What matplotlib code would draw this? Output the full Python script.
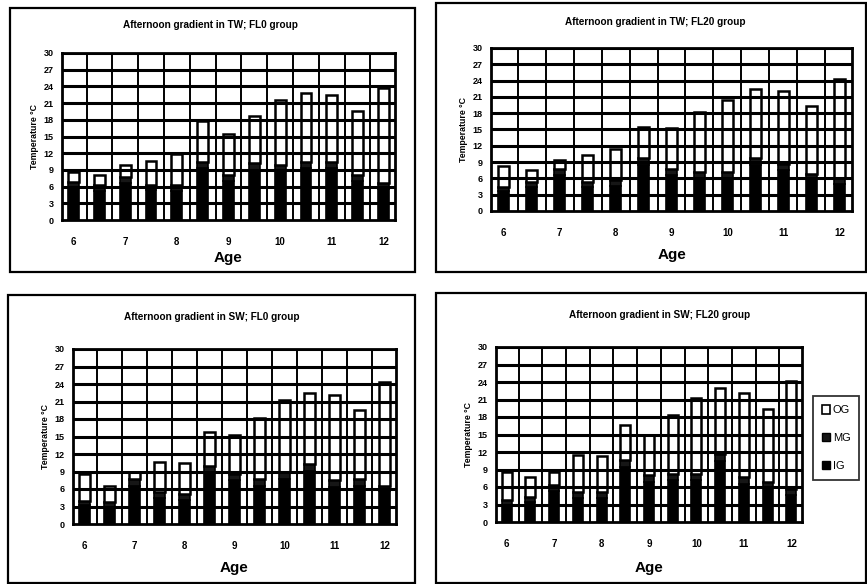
import matplotlib
matplotlib.use("Agg")
import matplotlib.pyplot as plt
from matplotlib.patches import Rectangle, Patch

plt.rcParams['font.family'] = ['Liberation Sans', 'DejaVu Sans']
plt.rcParams['font.weight'] = 'bold'

W, H = 867, 584

age_ticks = ['6', '7', '8', '9', '10', '11', '12']
yticks = [0, 3, 6, 9, 12, 15, 18, 21, 24, 27, 30]

titles = ["Afternoon gradient in TW; FL0 group",
          "Afternoon gradient in TW; FL20 group",
          "Afternoon gradient in SW; FL0 group",
          "Afternoon gradient in SW; FL20 group"]

# Panel 1: TW, FL0
ig_1 = [5.9, 5.2, 6.6, 5.3, 5.2, 9.3, 7.0, 9.0, 8.8, 9.3, 9.4, 7.0, 5.6]
mg_1 = [1.0, 1.1, 1.2, 1.0, 1.1, 1.2, 1.1, 1.2, 1.1, 1.2, 1.1, 1.1, 1.0]
og_1 = [1.8, 1.8, 2.1, 4.3, 5.5, 7.2, 7.3, 8.4, 11.7, 12.3, 11.9, 11.5, 17.1]
# Panel 2: TW, FL20
ig_2 = [3.6, 4.5, 6.7, 4.4, 4.6, 8.5, 6.7, 6.1, 6.1, 8.5, 7.6, 5.9, 5.0]
mg_2 = [0.8, 0.9, 1.1, 1.0, 1.1, 1.2, 1.1, 1.1, 1.1, 1.2, 1.1, 1.0, 1.0]
og_2 = [3.9, 2.1, 1.6, 4.9, 5.7, 5.7, 7.5, 11.1, 13.3, 12.7, 13.4, 12.4, 18.3]
# Panel 3: SW, FL0
ig_3 = [3.2, 3.0, 6.6, 4.5, 4.2, 8.8, 7.5, 6.6, 7.8, 9.1, 6.4, 6.6, 5.6]
mg_3 = [0.8, 0.8, 1.1, 1.0, 1.0, 1.2, 1.1, 1.1, 1.1, 1.2, 1.1, 1.1, 1.0]
og_3 = [4.6, 2.8, 1.2, 5.1, 5.3, 5.8, 6.6, 10.4, 12.4, 12.2, 14.7, 11.8, 17.8]
# Panel 4: SW, FL20
ig_4 = [2.9, 3.4, 5.4, 4.1, 4.1, 9.4, 6.9, 7.2, 7.2, 10.5, 6.6, 5.9, 4.7]
mg_4 = [0.8, 0.9, 1.0, 1.0, 1.0, 1.2, 1.1, 1.1, 1.1, 1.2, 1.1, 1.0, 1.0]
og_4 = [4.9, 3.4, 2.2, 6.4, 6.3, 6.0, 6.9, 10.1, 13.0, 11.2, 14.4, 12.5, 18.4]

panels = [(ig_1, mg_1, og_1), (ig_2, mg_2, og_2), (ig_3, mg_3, og_3), (ig_4, mg_4, og_4)]

# layout in pixels
frames = [(10, 8, 415, 272), (436, 3, 866, 272), (8, 295, 415, 583), (436, 293, 866, 583)]
plots = [(62, 53, 395, 220), (491, 48, 852, 211), (73, 349, 396, 524), (496, 347, 802, 522)]
title_pos = [(210, 25), (655, 22), (212, 317), (660, 315)]
age_y = [258, 255, 568, 568]

fig = plt.figure(figsize=(W / 100, H / 100), dpi=100)


def frac_rect(x0, y0, x1, y1):
    return [x0 / W, 1 - y1 / H, (x1 - x0) / W, (y1 - y0) / H]


for k in range(4):
    fx0, fy0, fx1, fy1 = frames[k]
    fig.patches.append(Rectangle((fx0 / W, 1 - fy1 / H), (fx1 - fx0) / W, (fy1 - fy0) / H,
                                 transform=fig.transFigure, fill=False, edgecolor='black',
                                 linewidth=1.6))
    px0, py0, px1, py1 = plots[k]
    ax = fig.add_axes(frac_rect(px0, py0, px1, py1))
    ig, mg, og = panels[k]
    n = len(ig)
    x = list(range(n))
    bottom_mg = ig
    bottom_og = [a + b for a, b in zip(ig, mg)]
    bw = 0.42
    ax.bar(x, ig, width=bw, color='black', edgecolor='black', linewidth=1.2, zorder=3)
    ax.bar(x, mg, width=bw, bottom=bottom_mg, color='#161616', edgecolor='black', linewidth=1.2, zorder=3)
    ax.bar(x, og, width=bw, bottom=bottom_og, color='white', edgecolor='black', linewidth=1.8, zorder=3)
    ax.set_xlim(-0.45, n - 0.55)
    ax.set_ylim(0, 30)
    ax.set_yticks(yticks)
    ax.set_yticklabels([str(v) for v in yticks], fontsize=6.5, fontweight='bold')
    ax.set_xticks(list(range(0, n, 2)))
    ax.set_xticklabels(age_ticks, fontsize=7, fontweight='bold')
    ax.tick_params(axis='x', length=0, pad=12)
    ax.tick_params(axis='y', length=0, pad=6)
    for yv in yticks[1:]:
        ax.axhline(yv, color='black', linewidth=2.2, zorder=4)
    for xv in range(n - 1):
        ax.axvline(xv + 0.5, color='black', linewidth=1.4, zorder=2)
    for s in ax.spines.values():
        s.set_linewidth(2.0)
    ax.set_ylabel('Temperature °C', fontsize=6.3, fontweight='bold', labelpad=3)
    tx, ty = title_pos[k]
    fig.text(tx / W, 1 - ty / H, titles[k], ha='center', va='center', fontsize=7.2, fontweight='bold')
    fig.text((px0 + px1) / 2 / W, 1 - age_y[k] / H, 'Age', ha='center', va='center',
             fontsize=11, fontweight='bold')

handles = [Patch(facecolor='white', edgecolor='black', linewidth=1.2, label='OG'),
           Patch(facecolor='#161616', edgecolor='black', label='MG'),
           Patch(facecolor='black', edgecolor='black', label='IG')]
leg = fig.legend(handles=handles, loc='center', bbox_to_anchor=(836 / W, 1 - 438 / H),
                 frameon=True, fancybox=False, edgecolor='black', fontsize=8,
                 handlelength=0.8, handleheight=0.8, handletextpad=0.2, labelspacing=1.6,
                 borderpad=0.8)
leg.get_frame().set_linewidth(1.3)
for t in leg.get_texts():
    t.set_fontweight('normal')

fig.savefig('out.png', dpi=100)
